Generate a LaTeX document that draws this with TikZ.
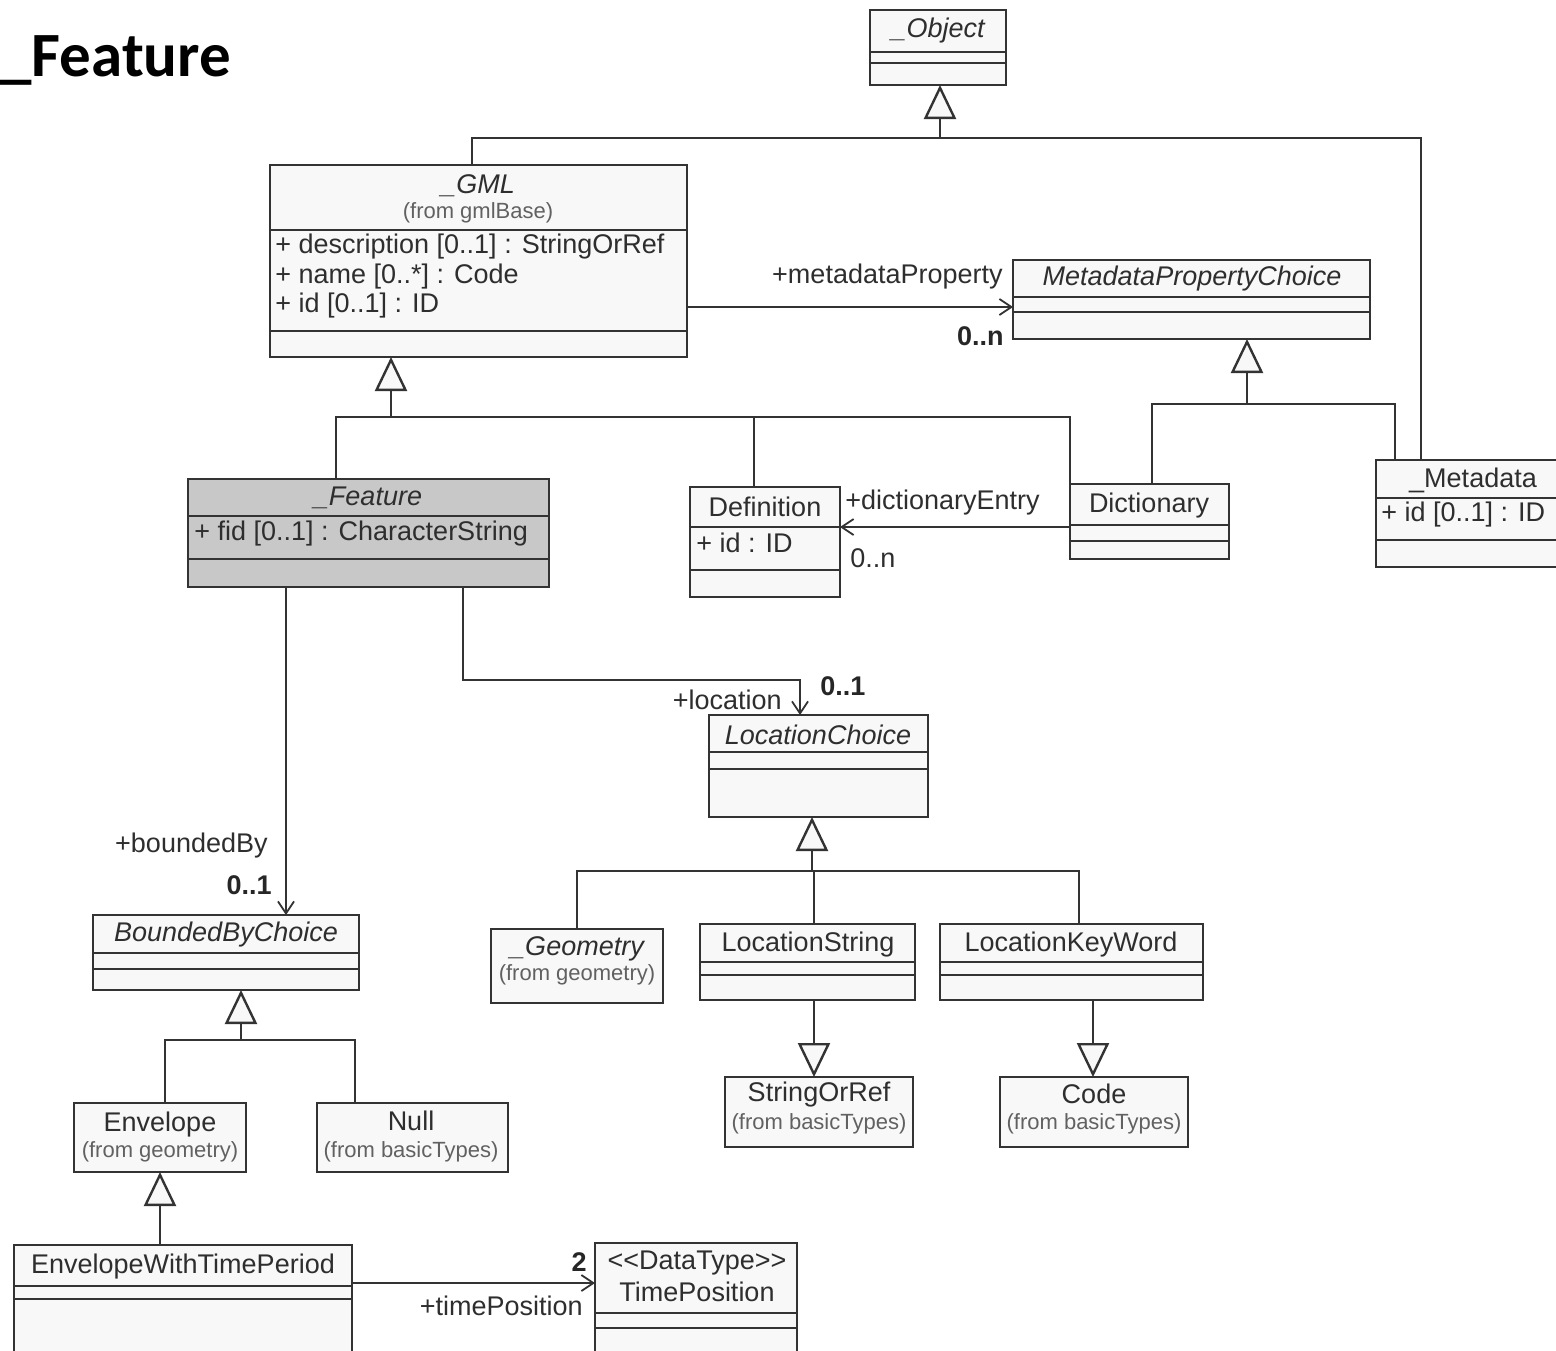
\documentclass[tikz,border=0pt]{standalone}
\usepackage{fontspec}
\setmainfont{Liberation Sans}
\newfontfamily\titlefont{Carlito}
\usetikzlibrary{arrows.meta}

\definecolor{umlline}{HTML}{333333}
\definecolor{umlfill}{HTML}{F8F8F8}
\definecolor{featfill}{HTML}{C8C8C8}
\definecolor{umltext}{HTML}{2E2E2E}

% class box: [fill]{name}{x1}{y1}{x2}{y2}, pixel units, y grows downward
\newcommand\umlclass[6][umlfill]{%
  \node[classbox, fill=#1, minimum width={(#5-#3)*0.5pt},
        minimum height={(#6-#4)*0.5pt}] (#2) at (#3,#4) {};}
% compartment divider across a class box at height y
\newcommand\umldiv[2]{\draw[divline] (#1.west |- 0,#2) -- (#1.east |- 0,#2);}

\begin{document}
\begin{tikzpicture}[x=0.5pt, y=-0.5pt,
  classbox/.style={draw=umlline, line width=1.4pt, rectangle, inner sep=0pt,
                   outer sep=0pt, anchor=north west},
  divline/.style={draw=umlline, line width=1.2pt},
  conn/.style={draw=umlline, line width=1.2pt},
  gen/.style={conn, -{Triangle[fill=umlfill, length=17pt, width=16pt]}},
  assoc/.style={conn, -{Straight Barb[length=6pt, width=8pt, line width=0.9pt]}},
  cname/.style={font=\fontsize{13.5pt}{16pt}\selectfont, text=umltext, inner sep=0pt},
  cabs/.style={font=\fontsize{13.5pt}{16pt}\selectfont\itshape, text=umltext, inner sep=0pt},
  cfrom/.style={font=\fontsize{11pt}{13pt}\selectfont, text=black!62, inner sep=0pt},
  attr/.style={cname, anchor=west},
  mult/.style={font=\fontsize{13.5pt}{16pt}\selectfont\bfseries, text=black!85, inner sep=0pt}
]
\useasboundingbox (0,0) rectangle (1556,1350);
\clip (0,0) rectangle (1556,1350);

% heading
\node[anchor=base west, inner sep=0pt,
      font=\titlefont\fontsize{31.5pt}{36pt}\selectfont\bfseries] (title) at (0,76) {\_Feature};

% ---- classes ----
\umlclass{Object}{870}{10}{1006}{85}
\umldiv{Object}{52}\umldiv{Object}{63}
\node[cabs] (ObjectN) at (938,31) {\_Object};

\umlclass{GML}{270}{165}{687}{357}
\umldiv{GML}{230}\umldiv{GML}{331}
\node[cabs] (GMLN) at (478,186) {\_GML};
\node[cfrom] (GMLF) at (478,213) {(from gmlBase)};
\node[attr] (GMLa) at (275,247) {+ description [0..1] : StringOrRef};
\node[attr] (GMLb) at (275,277) {+ name [0..*] : Code};
\node[attr] (GMLc) at (275,306) {+ id [0..1] : ID};

\umlclass{MPC}{1013}{260}{1370}{339}
\umldiv{MPC}{297}\umldiv{MPC}{312}
\node[cabs] (MPCN) at (1192,279) {MetadataPropertyChoice};

\umlclass[featfill]{Feature}{188}{479}{549}{587}
\umldiv{Feature}{516}\umldiv{Feature}{559}
\node[cabs] (FeatureN) at (368,498) {\_Feature};
\node[attr] (Featurea) at (194,534) {+ fid [0..1] : CharacterString};

\umlclass{Definition}{690}{487}{840}{597}
\umldiv{Definition}{527}\umldiv{Definition}{570}
\node[cname] (DefinitionN) at (765,507) {Definition};
\node[attr] (Definitiona) at (696,543) {+ id : ID};

\umlclass{Dictionary}{1070}{484}{1229}{559}
\umldiv{Dictionary}{525}\umldiv{Dictionary}{541}
\node[cname] (DictionaryN) at (1149,506) {Dictionary};

\umlclass{Metadata}{1376}{460}{1600}{567}
\umldiv{Metadata}{498}\umldiv{Metadata}{540}
\node[cname] (MetadataN) at (1473,480) {\_Metadata};
\node[attr] (Metadataa) at (1381,515) {+ id [0..1] : ID};

\umlclass{LocChoice}{709}{715}{928}{817}
\umldiv{LocChoice}{752}\umldiv{LocChoice}{769}
\node[cabs] (LocChoiceN) at (818,735) {LocationChoice};

\umlclass{Geometry}{491}{929}{663}{1003}
\node[cabs] (GeometryN) at (577,949) {\_Geometry};
\node[cfrom] (GeometryF) at (577,975) {(from geometry)};

\umlclass{LocString}{700}{924}{915}{1000}
\umldiv{LocString}{962}\umldiv{LocString}{975}
\node[cname] (LocStringN) at (808,944) {LocationString};

\umlclass{LocKeyWord}{940}{924}{1203}{1000}
\umldiv{LocKeyWord}{962}\umldiv{LocKeyWord}{975}
\node[cname] (LocKeyWordN) at (1071,944) {LocationKeyWord};

\umlclass{StringOrRef}{725}{1077}{913}{1147}
\node[cname] (StringOrRefN) at (819,1094) {StringOrRef};
\node[cfrom] (StringOrRefF) at (819,1124) {(from basicTypes)};

\umlclass{Code}{1000}{1077}{1188}{1147}
\node[cname] (CodeN) at (1094,1094) {Code};
\node[cfrom] (CodeF) at (1094,1124) {(from basicTypes)};

\umlclass{BBC}{93}{915}{359}{990}
\umldiv{BBC}{953}\umldiv{BBC}{969}
\node[cabs] (BBCN) at (226,934) {BoundedByChoice};

\umlclass{Envelope}{74}{1103}{246}{1172}
\node[cname] (EnvelopeN) at (160,1124) {Envelope};
\node[cfrom] (EnvelopeF) at (160,1152) {(from geometry)};

\umlclass{Null}{317}{1103}{508}{1172}
\node[cname] (NullN) at (411,1121) {Null};
\node[cfrom] (NullF) at (411,1152) {(from basicTypes)};

\umlclass{EWTP}{14}{1245}{352}{1380}
\umldiv{EWTP}{1286}\umldiv{EWTP}{1299}
\node[cname] (EWTPN) at (183,1266) {EnvelopeWithTimePeriod};

\umlclass{TimePos}{595}{1243}{797}{1380}
\umldiv{TimePos}{1313}\umldiv{TimePos}{1328}
\node[cname] (TimePosS) at (697,1263) {<\kern0pt<DataType>\kern0pt>};
\node[cname] (TimePosN) at (697,1292) {TimePosition};

% ---- generalizations ----
\coordinate (objBar) at (940,138);
\draw[gen] (objBar) -- (objBar |- Object.south);
\draw[conn] (GML.north -| 472,0) |- (objBar);
\draw[conn] (Metadata.north -| 1421,0) |- (objBar);

\coordinate (gmlBar) at (391,417);
\draw[gen] (gmlBar) -- (gmlBar |- GML.south);
\draw[conn] (Feature.north -| 336,0) |- (gmlBar);
\draw[conn] (Definition.north -| 754,0) |- (gmlBar);
\draw[conn] (Dictionary.north west) |- (gmlBar);

\coordinate (mpcBar) at (1247,404);
\draw[gen] (mpcBar) -- (mpcBar |- MPC.south);
\draw[conn] (Dictionary.north -| 1152,0) |- (mpcBar);
\draw[conn] (Metadata.north -| 1395,0) |- (mpcBar);

\coordinate (lcBar) at (812,871);
\draw[gen] (lcBar) -- (lcBar |- LocChoice.south);
\draw[conn] (Geometry.north -| 577,0) |- (lcBar);
\draw[conn] (LocString.north -| 814,0) |- (lcBar);
\draw[conn] (LocKeyWord.north -| 1079,0) |- (lcBar);

\draw[gen] (LocString.south -| 814,0) -- (StringOrRef.north -| 814,0);
\draw[gen] (LocKeyWord.south -| 1093,0) -- (Code.north -| 1093,0);

\coordinate (bbcBar) at (241,1040);
\draw[gen] (bbcBar) -- (bbcBar |- BBC.south);
\draw[conn] (Envelope.north -| 165,0) |- (bbcBar);
\draw[conn] (Null.north -| 355,0) |- (bbcBar);

\draw[gen] (EWTP.north -| 160,0) -- (Envelope.south -| 160,0);

% ---- associations ----
\draw[assoc] (GML.east |- 0,307) -- (MPC.west |- 0,307);
\node[cname, anchor=east] (metaRole) at (1003,277) {+metadataProperty};
\node[mult, anchor=east] (metaMult) at (1004,336) {0..n};

\draw[assoc] (Dictionary.west |- 0,527) -- (Definition.east |- 0,527);
\node[cname, anchor=west] (dictRole) at (845,503) {+dictionaryEntry};
\node[cname, anchor=west] (dictMult) at (850,558) {0..n};

\coordinate (locBend) at (800,680);
\draw[assoc] (Feature.south -| 463,0) |- (locBend) -- (locBend |- LocChoice.north);
\node[cname, anchor=east] (locRole) at (782,700) {+location};
\node[mult, anchor=west] (locMult) at (820,686) {0..1};

\draw[assoc] (Feature.south -| 286,0) -- (BBC.north -| 286,0);
\node[cname, anchor=east] (bbRole) at (268,846) {+boundedBy};
\node[mult, anchor=east] (bbMult) at (272,885) {0..1};

\draw[assoc] (EWTP.east |- 0,1283) -- (TimePos.west |- 0,1283);
\node[mult] (tpMult) at (579,1262) {2};
\node[cname, anchor=east] (tpRole) at (583,1306) {+timePosition};
\end{tikzpicture}
\end{document}
